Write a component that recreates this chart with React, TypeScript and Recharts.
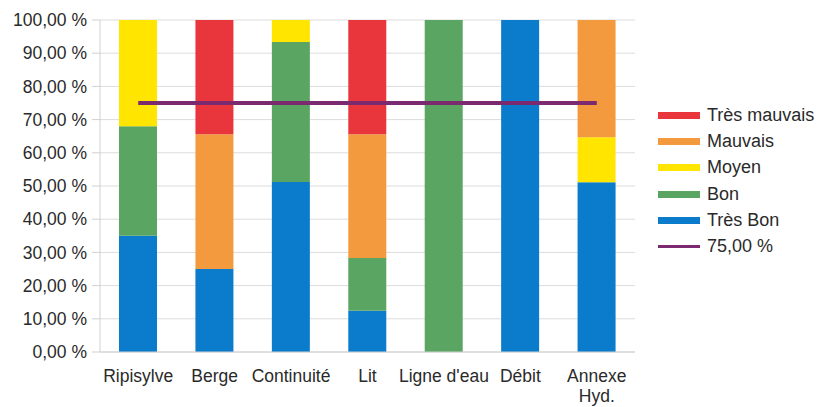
import React from "react";
import {
  Bar,
  CartesianGrid,
  ComposedChart,
  Line,
  XAxis,
  YAxis,
} from "recharts";

const categories = ["Ripisylve", "Berge", "Continuité", "Lit", "Ligne d'eau", "Débit", "Annexe\nHyd."];
const tresBon = [35, 25, 51.2, 12.4, 0, 100, 51.1];
const bon = [33, 0, 42.2, 15.9, 100, 0, 0];
const moyen = [32, 0, 6.6, 0, 0, 0, 13.6];
const mauvais = [0, 40.6, 0, 37.3, 0, 0, 35.3];
const tresMauvais = [0, 34.4, 0, 34.4, 0, 0, 0];
const seuil = 75;
const yTicks = [0, 10, 20, 30, 40, 50, 60, 70, 80, 90, 100];

const FONT = "'Liberation Sans', Arial, sans-serif";
const TEXT = "#2a2a2a";

const series = [
  { key: "tresBon", name: "Très Bon", color: "#0a7ccb" },
  { key: "bon", name: "Bon", color: "#5aa562" },
  { key: "moyen", name: "Moyen", color: "#ffe500" },
  { key: "mauvais", name: "Mauvais", color: "#f49a3e" },
  { key: "tresMauvais", name: "Très mauvais", color: "#e8363c" },
];
const lineColor = "#7b2a70";

const data = categories.map((name, i) => ({
  name,
  tresBon: tresBon[i],
  bon: bon[i],
  moyen: moyen[i],
  mauvais: mauvais[i],
  tresMauvais: tresMauvais[i],
  seuil,
}));

const pct = (v: number) => v.toFixed(2).replace(".", ",") + " %";

const CategoryTick = (props: any) => {
  const { x, y, payload } = props;
  const lines = String(payload.value).split("\n");
  return (
    <text x={x} y={y} textAnchor="middle" fill={TEXT} fontSize={17.5} fontFamily={FONT}>
      {lines.map((l, i) => (
        <tspan key={i} x={x} dy={i === 0 ? 30 : 20}>
          {l}
        </tspan>
      ))}
    </text>
  );
};

const LegendBox = () => {
  const items = [...series].reverse();
  return (
    <div
      style={{
        position: "absolute",
        left: 658,
        top: 102,
        fontFamily: FONT,
        fontSize: 18,
        color: TEXT,
      }}
    >
      {items.map((s) => (
        <div key={s.key} style={{ display: "flex", alignItems: "center", height: 26.3 }}>
          <div style={{ width: 42, height: 7, background: s.color, marginRight: 7 }} />
          <span>{s.name}</span>
        </div>
      ))}
      <div style={{ display: "flex", alignItems: "center", height: 26.3 }}>
        <div style={{ width: 42, height: 3, background: lineColor, marginRight: 7 }} />
        <span>{pct(seuil)}</span>
      </div>
    </div>
  );
};

export default function App() {
  return (
    <div style={{ position: "relative", width: 817, height: 407, background: "#fff" }}>
      <style>{"body{margin:0}"}</style>
      <ComposedChart
        width={817}
        height={407}
        data={data}
        margin={{ top: 20, right: 182, bottom: 0, left: 0 }}
      >
        <CartesianGrid stroke="#dcdcdc" vertical={false} />
        <XAxis
          dataKey="name"
          interval={0}
          tickSize={0}
          tickMargin={0}
          height={55}
          tick={<CategoryTick />}
          axisLine={{ stroke: "#d0d0d0" }}
        />
        <YAxis
          width={100}
          domain={[0, 100]}
          ticks={yTicks}
          interval={0}
          tickFormatter={pct}
          tickSize={8}
          tickMargin={5}
          tickLine={{ stroke: "#d0d0d0" }}
          axisLine={{ stroke: "#d0d0d0" }}
          tick={{ fill: TEXT, fontSize: 17.5, fontFamily: FONT }}
        />
        <YAxis
          yAxisId="right"
          orientation="right"
          width={0}
          domain={[0, 100]}
          tick={false}
          tickLine={false}
          axisLine={{ stroke: "#e0e0e0" }}
        />
        {series.map((s) => (
          <Bar
            key={s.key}
            dataKey={s.key}
            name={s.name}
            stackId="a"
            fill={s.color}
            barSize={38}
            isAnimationActive={false}
          />
        ))}
        <Line
          dataKey="seuil"
          name={pct(seuil)}
          stroke={lineColor}
          strokeWidth={4}
          dot={false}
          activeDot={false}
          isAnimationActive={false}
        />
      </ComposedChart>
      <LegendBox />
    </div>
  );
}
